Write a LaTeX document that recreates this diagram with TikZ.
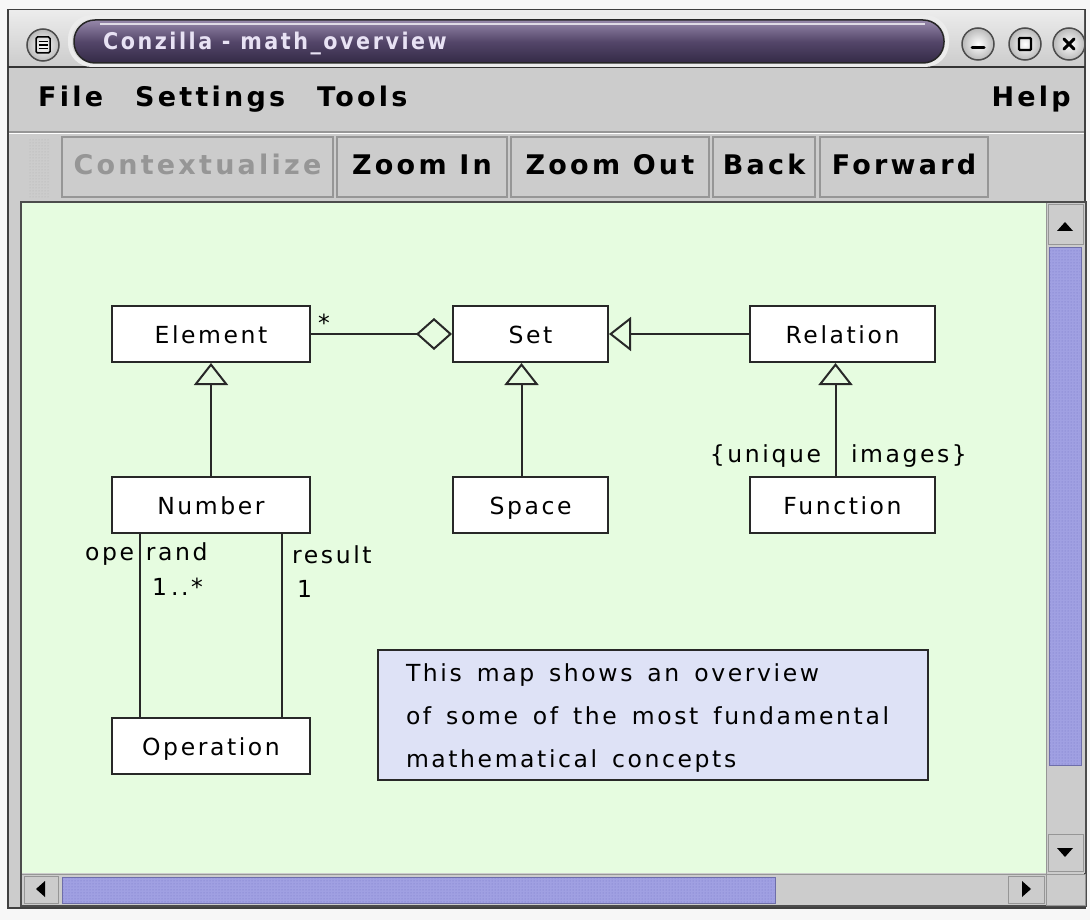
\documentclass[tikz,border=0pt]{standalone}
\usepackage{fontspec}
\usetikzlibrary{arrows.meta,patterns}
\newfontfamily\diagfont[LetterSpace=11]{DejaVu Sans}
\newfontfamily\uifont[LetterSpace=12]{DejaVu Sans}
\newfontfamily\titlefont[LetterSpace=11]{DejaVu Sans Condensed}
\newcommand\widespaces{\spaceskip=15pt plus 2pt\relax}

\definecolor{winbg}{RGB}{204,204,204}
\definecolor{canvasbg}{RGB}{230,252,224}
\definecolor{notefill}{RGB}{222,226,246}
\definecolor{thumbfill}{RGB}{160,160,226}
\definecolor{thumbdot}{RGB}{120,120,200}
\definecolor{thumbedge}{RGB}{110,110,170}
\definecolor{pilltop}{RGB}{150,136,170}
\definecolor{pillmid}{RGB}{84,70,106}
\definecolor{pillbot}{RGB}{52,42,70}
\definecolor{titletext}{RGB}{232,226,244}
\definecolor{lineclr}{RGB}{40,40,40}
\definecolor{greyed}{RGB}{150,150,150}
\definecolor{etch}{RGB}{150,150,150}

\tikzset{
  cls/.style={draw=lineclr, fill=white, line width=2pt, minimum height=56pt,
    inner sep=0pt, text height=18pt, text depth=0pt,
    font=\diagfont\fontsize{23.5}{28}\selectfont},
  lbl/.style={inner sep=0pt, font=\diagfont\fontsize{23.5}{28}\selectfont},
  conn/.style={draw=lineclr, line width=2pt},
  gen/.style={conn, -{Triangle[open, length=22pt, width=34pt]}},
  agg/.style={conn, -{Diamond[open, length=36pt, width=32pt]}},
  tbtn/.style={draw=etch, fill=winbg, line width=1.2pt, minimum height=60pt,
    inner sep=0pt, text height=16pt, text depth=0pt,
    font=\uifont\bfseries\fontsize{27}{30}\selectfont},
  menuitem/.style={inner sep=0pt, anchor=base west,
    font=\uifont\bfseries\fontsize{27}{30}\selectfont},
  wbtn/.style={draw=black!70, line width=1.5pt, inner color=white, outer color=gray!55},
  sbtn/.style={draw=etch, fill=winbg, line width=1pt},
  thumb/.style={draw=thumbedge, line width=1pt, fill=thumbfill},
  dotsfill/.style={pattern=dots, pattern color=thumbdot},
}

\begin{document}
\begin{tikzpicture}[x=1pt,y=-1pt]
\useasboundingbox (0,0) rectangle (1090,920);
\fill[white!94!gray] (0,0) rectangle (1090,920);

% window frame
\fill[winbg] (8,10) rectangle (1085,908);
\draw[black!75, line width=2pt] (8,10) rectangle (1085,908);

% title bar
\shade[top color=gray!15, bottom color=gray!40] (9,11) rectangle (1084,66);
\draw[black!80, line width=2pt] (8,67) -- (1085,67);
\draw[wbtn] (43,45) circle (16);
\draw[black, line width=1.5pt, rounded corners=1.5pt] (36,37) rectangle (50,53);
\draw[black, line width=1.3pt] (38.5,41.5) -- (47.5,41.5) (38.5,45) -- (47.5,45) (38.5,48.5) -- (47.5,48.5);
% title pill
\draw[gray!15, line width=4pt, rounded corners=22pt] (70,17) rectangle (947,65);
\shade[top color=pilltop, bottom color=pillbot, middle color=pillmid, rounded corners=21pt,
  draw=black!85, line width=1.5pt] (74,20) rectangle (944,63);
\draw[white!70!pilltop, line width=1.2pt] (100,24) -- (925,24);
\node[anchor=base west, inner sep=0pt, text=titletext,
  font=\titlefont\bfseries\fontsize{23}{26}\selectfont] (title) at (103,50) {Conzilla - math\_overview};
% window buttons
\draw[wbtn] (978,44) circle (16);
\draw[black, line width=3pt, line cap=round] (972,48) -- (984,48);
\draw[wbtn] (1025,44) circle (16);
\draw[black, line width=2.2pt, rounded corners=1pt] (1019,38) rectangle (1031,50);
\draw[wbtn] (1069,44) circle (16);
\draw[black, line width=3pt, line cap=round] (1064,39) -- (1074,49) (1064,49) -- (1074,39);

% menu bar
\node[menuitem] (mfile) at (38,107) {File};
\node[menuitem] (msettings) at (135,107) {Settings};
\node[menuitem] (mtools) at (317,107) {Tools};
\node[menuitem, anchor=base east] (mhelp) at (1071,107) {Help};
\draw[etch, line width=1.2pt] (9,132) -- (1084,132);
\draw[white, line width=1pt] (9,134) -- (1084,134);

% tool bar
\fill[dotsfill, pattern color=gray!60] (28,139) rectangle (50,198);
\node[tbtn, minimum width=271pt, text=greyed] (bctx) at (197.5,167) {Contextualize};
\node[tbtn, minimum width=170pt] (bzin) at (422,167) {Zoom In};
\node[tbtn, minimum width=198pt] (bzout) at (610,167) {Zoom Out};
\node[tbtn, minimum width=102pt] (bback) at (764,167) {Back};
\node[tbtn, minimum width=168pt] (bfwd) at (904,167) {Forward};

% canvas
\fill[canvasbg] (22,203) rectangle (1046,873);
\draw[black!70, line width=1.5pt] (21,202) rectangle (1086,906);

% vertical scroll bar
\fill[winbg] (1046,203) rectangle (1085,873);
\draw[etch, line width=1pt] (1046,203) -- (1046,905);
\draw[sbtn] (1048,205) rectangle (1083,245);
\fill[black] (1057,231) -- (1073,231) -- (1065,222) -- cycle;
\draw[thumb] (1049,248) rectangle (1081,765);
\fill[dotsfill] (1050,249) rectangle (1080,764);
\draw[sbtn] (1048,834) rectangle (1083,871);
\fill[black] (1057,848) -- (1073,848) -- (1065,857) -- cycle;

% horizontal scroll bar
\fill[winbg] (22,874) rectangle (1046,905);
\draw[etch, line width=1pt] (22,874) -- (1085,874);
\draw[sbtn] (24,876) rectangle (58,903);
\fill[black] (45,881) -- (45,897) -- (36,889) -- cycle;
\draw[thumb] (62,877) rectangle (775,903);
\fill[dotsfill] (63,878) rectangle (774,902);
\draw[sbtn] (1008,876) rectangle (1044,903);
\fill[black] (1022,881) -- (1022,897) -- (1031,889) -- cycle;
\draw[sbtn] (1046,874) rectangle (1085,905);

% classes
\node[cls, minimum width=198pt] (element)   at (211,334) {Element};
\node[cls, minimum width=155pt] (set)       at (530.5,334) {Set};
\node[cls, minimum width=185pt] (relation)  at (842.5,334) {Relation};
\node[cls, minimum width=198pt] (number)    at (211,505) {Number};
\node[cls, minimum width=155pt] (space)     at (530.5,505) {Space};
\node[cls, minimum width=185pt] (function)  at (842.5,505) {Function};
\node[cls, minimum width=198pt] (operation) at (211,746) {Operation};

% note
\node[draw=lineclr, line width=2pt, fill=notefill, minimum width=550pt, minimum height=130pt,
  inner xsep=28pt, inner ysep=0pt, text width=494pt, align=left,
  font=\diagfont\fontsize{23.5}{43}\selectfont] (note) at (653,715)
  {\widespaces\rule{0pt}{23pt}This map shows an overview\\of some of the most fundamental\\mathematical concepts};

% labels drawn below the connectors
\node[lbl, anchor=base] (lopd) at (140,560)
  {\makebox[0pt][r]{ope}\hspace{12pt}\makebox[0pt][l]{rand}};
\node[lbl, anchor=base west] (lopdm) at (152,595) {1\,..*};
\node[lbl, anchor=base west] (lres) at (292,563) {result};
\node[lbl, anchor=base west] (lresm) at (297,597) {1};
\node[lbl, anchor=base] (luniq) at (836,462)
  {\makebox[0pt][r]{\{unique}\hspace{30pt}\makebox[0pt][l]{images\}}};
\node[lbl, anchor=base west] (lagg) at (318,331) {*};

% connectors
\draw[agg] (element) -- (set);
\draw[gen] (relation) -- (set);
\draw[gen] (number) -- (element);
\draw[gen] ([xshift=-9pt]space.north) -- ([xshift=-9pt]set.south);
\draw[gen] ([xshift=-7pt]function.north) -- ([xshift=-7pt]relation.south);
\draw[conn] ([xshift=-71pt]number.south) -- ([xshift=-71pt]operation.north);
\draw[conn] ([xshift=71pt]number.south) -- ([xshift=71pt]operation.north);
\end{tikzpicture}
\end{document}
